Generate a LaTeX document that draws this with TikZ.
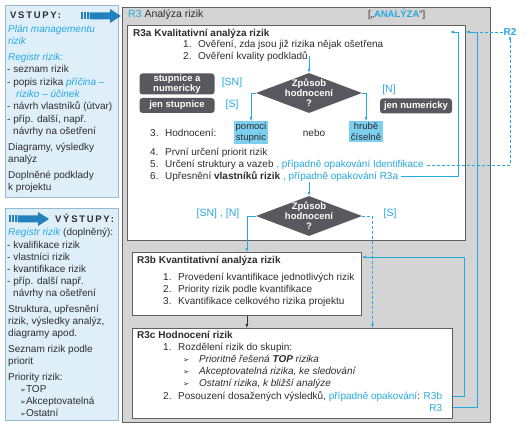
\documentclass[tikz,border=0pt]{standalone}
\usepackage{fontspec}
\setmainfont{Liberation Sans}
\newfontfamily\symfont{DejaVu Sans}
\usepackage{tikz}
\usetikzlibrary{
  positioning,
  arrows.meta,
  calc,
  shapes.geometric
}
\definecolor{rcyan}{RGB}{38,168,224}
\definecolor{rgrayfill}{RGB}{212,212,212}
\definecolor{rgrayline}{RGB}{95,95,95}
\definecolor{rdark}{RGB}{88,88,94}
\definecolor{rtext}{RGB}{45,45,45}
\definecolor{rpanel}{RGB}{222,239,250}
\definecolor{rpanelline}{RGB}{150,185,205}
\definecolor{rbox}{RGB}{125,207,240}
\definecolor{rarrow}{RGB}{35,130,190}
\newcommand{\rc}[1]{\textcolor{rcyan}{#1}}
\newcommand{\rci}[1]{\textcolor{rcyan}{\itshape #1}}
\newcommand{\itemno}[1]{\makebox[15pt][l]{#1}}
\newcommand{\arrowbullet}{\makebox[16pt][l]{{\symfont\fontsize{7.5}{8}\selectfont ➢}}}
\newcommand{\smallbullet}{{\symfont\fontsize{7}{8}\selectfont ➢}}

\begin{document}
\begin{tikzpicture}[x=1pt, y=-1pt,
  txt/.style={anchor=base west, inner sep=0pt, text=rtext,
              font=\fontsize{10}{12}\selectfont},
  head/.style={txt, font=\bfseries\fontsize{10}{12}\selectfont},
  spaced/.style={txt, font=\bfseries\fontsize{9.5}{11}\selectfont\addfontfeature{LetterSpace=18}},
  tag/.style={inner sep=0pt, text=rcyan, font=\fontsize{10.5}{12}\selectfont},
  panel/.style={draw=rpanelline, line width=1pt, fill=rpanel,
                anchor=north west, inner sep=0pt},
  frame/.style={draw=rgrayline, line width=0.8pt, fill=rgrayfill,
                anchor=north west, inner sep=0pt},
  stage/.style={draw=rgrayline, line width=0.8pt, fill=white,
                anchor=north west, inner sep=0pt},
  choice/.style={diamond, fill=rdark, minimum width=106, minimum height=40, inner sep=0pt},
  choicetext/.style={text=white, align=center, inner sep=0pt,
                     font=\bfseries\fontsize{9.5}{10}\selectfont},
  darkbox/.style={fill=rdark, rounded corners=3pt, text=white, align=center,
                  inner sep=1pt, font=\bfseries\fontsize{9.5}{10}\selectfont},
  lightbox/.style={fill=rbox, text=rtext, align=center, inner sep=1.5pt,
                   font=\fontsize{9.5}{10.5}\selectfont},
  link/.style={draw=rcyan, line width=0.6pt, -{Latex[length=4pt,width=3pt]}},
  dlink/.style={link, dash pattern=on 3pt off 2pt},
  bigarrow/.style={fill=rarrow}
]
  \useasboundingbox (0,0) rectangle (526,427);

  % inputs
  \node[panel, minimum width=113, minimum height=192] (inpanel) at (5,5) {};
  \node[spaced] (intitle) at (10,19) {VSTUPY:};
  \foreach \s in {81,84,87} \fill[bigarrow] (\s,12.5) rectangle ++(1.5,7);
  \fill[bigarrow] (89.5,12.5) -- (110,12.5) -- (110,9) -- (121,16)
    -- (110,23) -- (110,19.5) -- (89.5,19.5) -- cycle;
  \foreach \x/\y/\t [count=\i] in {
      8/33/{\rci{Plán managementu}}, 8/45/{\rci{rizik}},
      8/61/{\rci{Registr rizik:}}, 7/73/{- seznam rizik},
      7/86/{- popis rizika \rci{příčina –}}, 16/98/{\rci{riziko – účinek}},
      7/110/{- návrh vlastníků (útvar)}, 7/123/{- příp. další, např.},
      13/135/{návrhy na ošetření}, 8/151/{Diagramy, výsledky},
      8/163/{analýz}, 8/179/{Doplněné podklady}, 8/191/{k projektu}}
    \node[txt] (in\i) at (\x,\y) {\t};

  % outputs
  \node[panel, minimum width=113, minimum height=212] (outpanel) at (5,208) {};
  \foreach \s in {9,12,15} \fill[bigarrow] (\s,215.5) rectangle ++(1.5,7);
  \fill[bigarrow] (17.5,215.5) -- (38,215.5) -- (38,212) -- (49,219)
    -- (38,226) -- (38,222.5) -- (17.5,222.5) -- cycle;
  \node[spaced] (outtitle) at (55,222.5) {VÝSTUPY:};
  \foreach \x/\y/\t [count=\i] in {
      8/236/{\rci{Registr rizik} (doplněný):}, 7/248/{- kvalifikace rizik},
      7/260/{- vlastníci rizik}, 7/272/{- kvantifikace rizik},
      7/284/{- příp. další např.}, 13/296/{návrhy na ošetření},
      8/312/{Struktura, upřesnění}, 8/324/{rizik, výsledky analýz,},
      8/336/{diagramy apod.}, 8/352/{Seznam rizik podle}, 8/364/{priorit},
      8/380/{Priority rizik:}, 20/392/{\smallbullet TOP},
      20/404/{\smallbullet Akceptovatelná}, 20/416/{\smallbullet Ostatní}}
    \node[txt] (out\i) at (\x,\y) {\t};

  % R3 frame
  \node[frame, minimum width=368, minimum height=415] (r3frame) at (122,7) {};
  \node[txt, font=\fontsize{10.5}{12}\selectfont] (r3title) at (128,18) {\rc{R3} Analýza rizik};
  \node[txt, font=\fontsize{9.5}{11}\selectfont] (r3mark) at (368,18)
    {[„\rc{\bfseries ANALÝZA}“]};

  % R3a
  \node[stage, minimum width=338, minimum height=215] (r3a) at (127,25) {};
  \node[head] (r3ahead) at (133,36.5) {R3a Kvalitativní analýza rizik};
  \node[txt] (row1) at (183,47.5) {\itemno{1.}Ověření, zda jsou již rizika nějak ošetřena};
  \node[txt] (row2) at (183,59.5) {\itemno{2.}Ověření kvality podkladů};
  \node[choice] (d1) at (309,93) {};
  \node[choicetext] (d1t) at (d1) {Způsob\\hodnocení\\?};
  \node[darkbox, minimum width=75, minimum height=21] (sn) at (177,84) {stupnice a\\numericky};
  \node[darkbox, minimum width=75, minimum height=15] (sonly) at (177,105.5) {jen stupnice};
  \node[darkbox, minimum width=72, minimum height=15] (nonly) at (416,106) {jen numericky};
  \node[tag] (tsn) at (232,83) {[SN]};
  \node[tag] (ts) at (232,105) {[S]};
  \node[tag] (tn) at (389,90) {[N]};
  \node[txt] (row3) at (150,136.5) {\itemno{3.}Hodnocení:};
  \node[lightbox] (scale) at (251,132.5) {pomoci\\stupnic};
  \node[txt, anchor=base] (or) at (314,136.5) {nebo};
  \node[lightbox] (rough) at (366,131.5) {hrubě\\číselně};
  \node[txt] (row4) at (150,155.5) {\itemno{4.}První určení priorit rizik};
  \node[txt] (row5) at (150,167.5) {\itemno{5.}Určení struktury a vazeb \rc{, případně opakování Identifikace}};
  \node[txt] (row6) at (150,179.5) {\itemno{6.}Upřesnění \textbf{vlastníků rizik} \rc{, případně opakování R3a}};
  \node[choice] (d2) at (309,216) {};
  \node[choicetext] (d2t) at (d2) {Způsob\\hodnocení\\?};
  \node[tag] (tsnn) at (218,214) {[SN] , [N]};
  \node[tag] (tss) at (390,214) {[S]};
  \node[tag, font=\bfseries\fontsize{10}{12}\selectfont] (rtwo) at (510,32) {R2};

  % R3b
  \node[stage, minimum width=229, minimum height=63] (r3b) at (132,252) {};
  \node[head] (r3bhead) at (137,263.5) {R3b Kvantitativní analýza rizik};
  \node[txt] (q1) at (163,280.5) {\itemno{1.}Provedení kvantifikace jednotlivých rizik};
  \node[txt] (q2) at (163,292.5) {\itemno{2.}Priority rizik podle kvantifikace};
  \node[txt] (q3) at (163,304.5) {\itemno{3.}Kvantifikace celkového rizika projektu};

  % R3c
  \node[stage, minimum width=320, minimum height=90] (r3c) at (132,328) {};
  \node[head] (r3chead) at (137,338.5) {R3c Hodnocení rizik};
  \node[txt] (c1) at (163,350.5) {\itemno{1.}Rozdělení rizik do skupin:};
  \node[txt] (c2) at (183,362.5) {\arrowbullet\textit{Prioritně řešená \textbf{TOP} rizika}};
  \node[txt] (c3) at (183,374.5) {\arrowbullet\textit{Akceptovatelná rizika, ke sledování}};
  \node[txt] (c4) at (183,386.5) {\arrowbullet\textit{Ostatní rizika, k bližší analýze}};
  \node[txt] (c5) at (163,399.5) {\itemno{2.}Posouzení dosažených výsledků, \rc{případně opakování}: \rc{R3b}};
  \node[txt, anchor=base east, text=rcyan] (lr3) at ([yshift=-11.5pt]c5.base east) {R3};

  % connectors
  \coordinate (jA) at (458,32);
  \coordinate (jB) at (477,32);
  \draw[link] ([xshift=2pt]row2.east) -| (d1.north);
  \draw[link] (d1.west) -| (scale.north);
  \draw[link] (d1.east) -| (rough.north);
  \draw[link] (row6.south -| d2.north) -- (d2.north);
  \draw[link] (d2.west) -| (r3b.north);
  \draw[dlink] (d2.east) -| ($(r3c.north west)!0.75!(r3c.north east)$);
  \draw[-{Latex[length=4pt,width=3pt]}, draw=rtext, line width=0.5pt]
    (r3b.south) -- (r3b.south |- r3c.north);
  \draw[link] ([xshift=3pt]row6.east) -| (jA) -- ++(-8,0);
  \draw[dlink] ([xshift=3pt]row5.east) -| (rtwo.south);
  \draw[draw=rcyan, line width=0.6pt, dash pattern=on 3pt off 2pt] (rtwo.west) -- (jB);
  \draw[link] (r3c.east |- c5) -- ++(11,0) |- ([yshift=-5pt]r3b.north east);
  \draw[link] (r3c.east |- lr3) -| (jB) -- (jB -| r3a.east);
\end{tikzpicture}
\end{document}
